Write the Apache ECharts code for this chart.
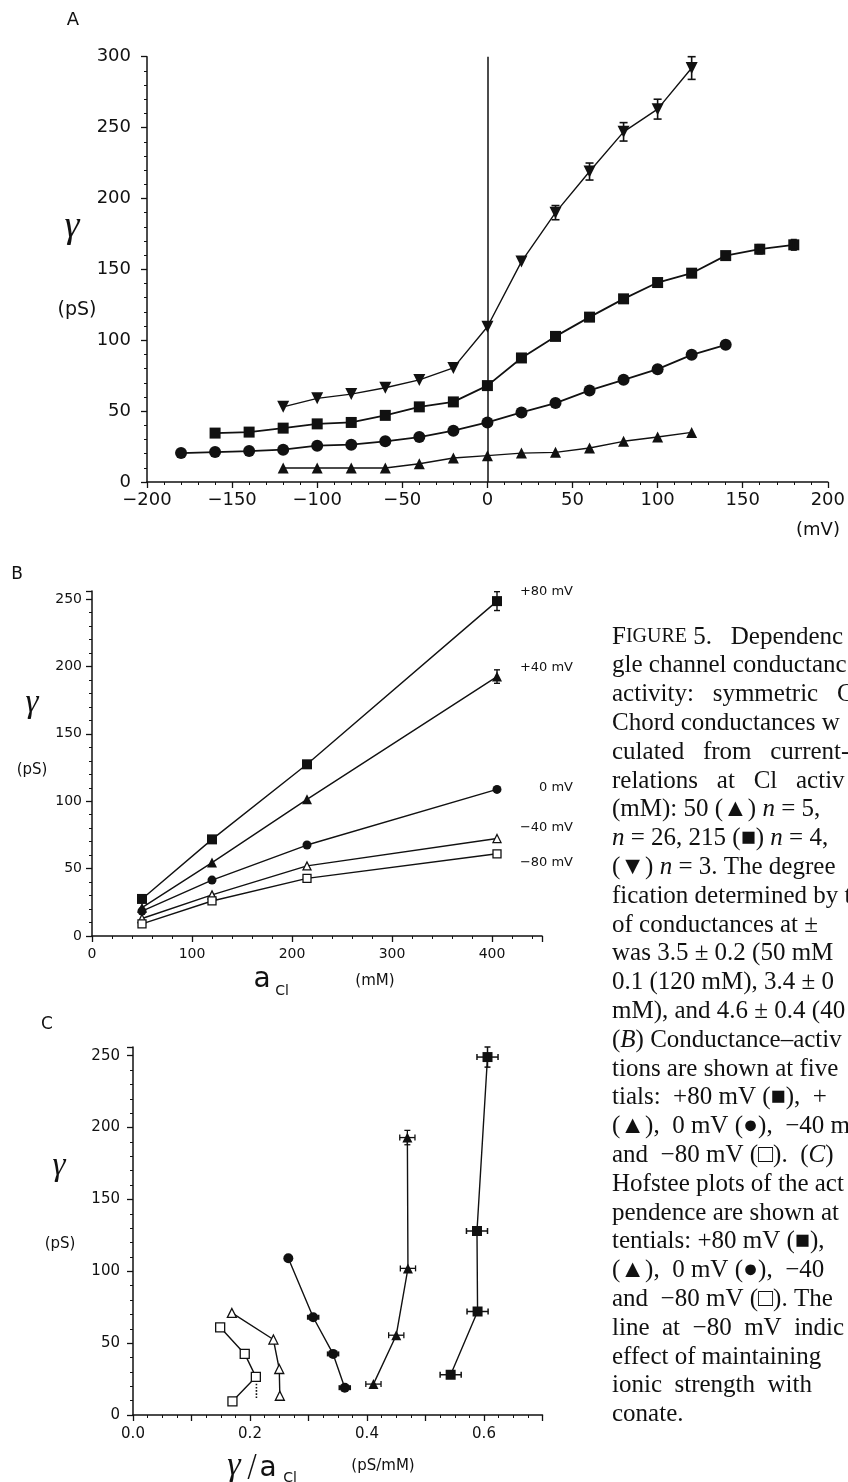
<!DOCTYPE html>
<html><head><meta charset="utf-8">
<script src="https://cdn.jsdelivr.net/npm/echarts@6/dist/echarts.min.js"></script>
<style>html,body{margin:0;padding:0;background:#fff}#c{width:848px;height:1482px}</style>
</head><body><div id="c"></div>
<script>
// ---------- Panel A: gamma vs voltage ----------
const aDownX = [-120,-100,-80,-60,-40,-20,0,20,40,60,80,100,120];
const aDownY = [53,59,62,66.5,72,80.5,109.5,155.5,190,219,247,263,292];
const aDownErr = [0,0,0,0,0,0,0,0,5,6,6.5,7,8];
const aSqX = [-160,-140,-120,-100,-80,-60,-40,-20,0,20,40,60,80,100,120,140,160,180];
const aSqY = [34.5,35.2,38,41,42,47,53,56.5,68,87.5,102.7,116.3,129.2,140.7,147.3,159.7,164.2,167.3];
const aSqErr = [0,0,0,0,0,0,0,0,0,0,0,0,0,0,0,0,3,3.5];
const aCircX = [-180,-160,-140,-120,-100,-80,-60,-40,-20,0,20,40,60,80,100,120,140];
const aCircY = [20.4,21.1,21.8,22.8,25.6,26.3,28.7,31.7,36.2,42,49.1,55.7,64.6,72.1,79.6,89.7,96.8];
const aUpX = [-120,-100,-80,-60,-40,-20,0,20,40,60,80,100,120];
const aUpY = [9.9,9.9,9.9,9.9,12.9,16.9,18.6,20.4,20.9,24,28.7,31.7,35];

// ---------- Panel B: gamma vs Cl activity ----------
const bAct = [50,120,215,405];
const bP80 = [27.5,71.7,127.4,248.5];
const bP80Err = [0,0,0,7];
const bP40 = [21,54.5,101.4,192.5];
const bP40Err = [0,0,0,5];
const b0 = [18.5,41.5,67.5,108.8];
const bM40 = [13,30.5,52,72.3];
const bM80 = [9,26,42.8,61];
const bLabels = ['+80 mV','+40 mV','0 mV','\u221240 mV','\u221280 mV'];

// ---------- Panel C: Eadie-Hofstee ----------
const cM80X = [0.149,0.191,0.210,0.170];
const cM80Y = [61,42.5,26.5,9.5];
const cM80DotX = [0.211,0.211];
const cM80DotY = [24,11];
const cM40X = [0.169,0.240,0.250,0.251];
const cM40Y = [71,52.5,32,13.4];
const c0X = [0.2655,0.308,0.342,0.362];
const c0Y = [109,68,42.5,19];
const c0XErr = [0,0.009,0.009,0.009];
const cP40X = [0.411,0.450,0.470,0.469];
const cP40Y = [21.5,55.5,102,193];
const cP40XErr = [0.013,0.013,0.013,0.013];
const cP40YErr = [0,0,0,5];
const cP80X = [0.543,0.589,0.588,0.606];
const cP80Y = [28,72,128,249];
const cP80XErr = [0.018,0.018,0.018,0.018];
const cP80YErr = [0,0,0,7];

const captionLines = [
 "{sc|F}{sm|IGURE} 5.   Dependenc",
 "gle channel conductanc",
 "activity:   symmetric   C",
 "Chord conductances w",
 "culated   from   current-",
 "relations   at   Cl   activ",
 "(mM): 50 (\u25B2) {i|n} = 5,",
 "{i|n} = 26, 215 (\u25A0) {i|n} = 4,",
 "(\u25BC) {i|n} = 3. The degree",
 "fication determined by t",
 "of conductances at \u00B1",
 "was 3.5 \u00B1 0.2 (50 mM",
 "0.1 (120 mM), 3.4 \u00B1 0",
 "mM), and 4.6 \u00B1 0.4 (40",
 "({i|B}) Conductance\u2013activ",
 "tions are shown at five",
 "tials:  +80 mV (\u25A0),  +",
 "(\u25B2),  0 mV (\u25CF),  \u221240 m",
 "and  \u221280 mV (\u25A1).  ({i|C})",
 "Hofstee plots of the act",
 "pendence are shown at",
 "tentials: +80 mV (\u25A0),",
 "(\u25B2),  0 mV (\u25CF),  \u221240",
 "and  \u221280 mV (\u25A1). The",
 "line  at  \u221280  mV  indic",
 "effect of maintaining",
 "ionic  strength  with",
 "conate."
];

const zip = (xs, ys) => xs.map((x, i) => [x, ys[i]]);
const zipErr = (xs, ys, es) => xs.map((x, i) => [x, ys[i], es[i]]).filter(d => d[2] > 0);
const K = '#111';
const SANS = 'DejaVu Sans';
const SERIF = 'Liberation Serif';

function lineS(xi, data, symbol, size, open, opts) {
  return Object.assign({
    type: 'line', xAxisIndex: xi, yAxisIndex: xi, data,
    symbol, symbolSize: size, showSymbol: true,
    lineStyle: { color: K, width: 1.4 },
    itemStyle: open ? { color: '#fff', borderColor: K, borderWidth: 1.3 } : { color: K, borderWidth: 0 },
    z: 3, animation: false, silent: true
  }, opts || {});
}
function errS(xi, data, dir, cap, lw) {
  return {
    type: 'custom', xAxisIndex: xi, yAxisIndex: xi, data, z: 6, silent: true, animation: false,
    encode: { x: 0, y: 1 },
    renderItem: (p, api) => {
      const x = api.value(0), y = api.value(1), e = api.value(2);
      let a, b;
      if (dir === 'v') { a = api.coord([x, y - e]); b = api.coord([x, y + e]); }
      else { a = api.coord([x - e, y]); b = api.coord([x + e, y]); }
      const st = { stroke: K, lineWidth: lw };
      const ch = [{ type: 'line', shape: { x1: a[0], y1: a[1], x2: b[0], y2: b[1] }, style: st }];
      for (const q of [a, b]) {
        if (dir === 'v') ch.push({ type: 'line', shape: { x1: q[0] - cap, y1: q[1], x2: q[0] + cap, y2: q[1] }, style: st });
        else ch.push({ type: 'line', shape: { x1: q[0], y1: q[1] - cap, x2: q[0], y2: q[1] + cap }, style: st });
      }
      return { type: 'group', children: ch };
    }
  };
}
function axisCommon(fs, margin, fmt, split) {
  return {
    axisLine: { show: true, onZero: false, lineStyle: { color: K, width: 1.5 } },
    axisTick: { show: true, inside: false, length: 6, lineStyle: { color: K, width: 1.3 } },
    minorTick: { show: true, splitNumber: split, length: 3, lineStyle: { color: K, width: 1 } },
    splitLine: { show: false },
    axisLabel: { color: K, fontFamily: SANS, fontSize: fs, margin, formatter: fmt }
  };
}
const fmtA = v => String(v).replace('-', '\u2212');
const fmtInt50 = v => (Math.abs(v % 50) < 1e-9 ? String(v) : '');
const fmtInt100 = v => (Math.abs(v % 100) < 1e-9 ? String(v) : '');
const fmtC = v => { const r = Math.round(v * 10); return r % 2 === 0 ? (r / 10).toFixed(1) : ''; };

function txt(x, y, text, size, family, extra) {
  return { type: 'text', x, y, silent: true, style: Object.assign({ text, fontSize: size, fontFamily: family, fill: K, align: 'center', verticalAlign: 'middle' }, extra || {}) };
}

const graphics = [
  txt(73, 20, 'A', 18, SANS),
  txt(72, 227, '\u03B3', 38, SERIF, { fontStyle: 'italic' }),
  txt(77, 310, '(pS)', 19, SANS),
  txt(818, 530, '(mV)', 18, SANS),
  txt(17, 575, 'B', 17, SANS),
  txt(32, 703, '\u03B3', 33, SERIF, { fontStyle: 'italic' }),
  txt(32, 770, '(pS)', 15, SANS),
  txt(262, 980, 'a', 28, SANS),
  txt(282, 991, 'Cl', 14, SANS),
  txt(375, 981, '(mM)', 15, SANS),
  txt(47, 1025, 'C', 17, SANS),
  txt(59, 1166, '\u03B3', 33, SERIF, { fontStyle: 'italic' }),
  txt(60, 1244, '(pS)', 15, SANS),
  txt(234, 1466, '\u03B3', 34, SERIF, { fontStyle: 'italic' }),
  txt(252, 1468, '/', 30, SANS, { fontWeight: 'lighter' }),
  txt(268, 1469, 'a', 28, SANS),
  txt(290, 1478, 'Cl', 14, SANS),
  txt(383, 1466, '(pS/mM)', 15, SANS)
];
const bLabelY = [592, 668, 788, 828, 863];
bLabels.forEach((t, i) => graphics.push(txt(573, bLabelY[i], t, 13, SANS, { align: 'right' })));
captionLines.forEach((t, i) => graphics.push({
  type: 'text', x: 612, y: 637 + i * 28.8, silent: true,
  style: {
    text: t, fontSize: 25, fontFamily: SERIF + ', DejaVu Serif', fill: K, align: 'left', verticalAlign: 'middle',
    rich: {
      i: { fontStyle: 'italic', fontSize: 25, fontFamily: SERIF },
      sc: { fontSize: 25, fontFamily: SERIF },
      sm: { fontSize: 20, fontFamily: SERIF }
    }
  }
}));

const option = {
  backgroundColor: '#fff',
  animation: false,
  grid: [
    { left: 147, top: 56.7, width: 682, height: 425.3 },
    { left: 92, top: 591, width: 450, height: 345 },
    { left: 133, top: 1047, width: 409.5, height: 368 }
  ],
  xAxis: [
    Object.assign({ type: 'value', gridIndex: 0, min: -200, max: 200, interval: 50 }, axisCommon(18, 9, fmtA, 5)),
    Object.assign({ type: 'value', gridIndex: 1, min: 0, max: 450, interval: 100 }, axisCommon(14, 11, fmtInt100, 5)),
    Object.assign({ type: 'value', gridIndex: 2, min: 0, max: 0.7, interval: 0.1 }, axisCommon(15, 12, fmtC, 4))
  ],
  yAxis: [
    Object.assign({ type: 'value', gridIndex: 0, min: 0, max: 300, interval: 50 }, axisCommon(18, 16, fmtA, 5)),
    Object.assign({ type: 'value', gridIndex: 1, min: 0, max: 256, interval: 50 }, axisCommon(14, 10, fmtInt50, 5)),
    Object.assign({ type: 'value', gridIndex: 2, min: 0, max: 256, interval: 50 }, axisCommon(15, 13, fmtInt50, 5))
  ],
  graphic: graphics,
  series: [
    // Panel A
    lineS(0, zip(aDownX, aDownY), 'triangle', 12, false, {
      symbolRotate: 180,
      markLine: { silent: true, symbol: 'none', label: { show: false }, lineStyle: { color: K, width: 1.5, type: 'solid' }, data: [{ xAxis: 0 }] }
    }),
    lineS(0, zip(aSqX, aSqY), 'rect', 11, false, { lineStyle: { color: K, width: 1.8 } }),
    lineS(0, zip(aCircX, aCircY), 'circle', 12, false, { lineStyle: { color: K, width: 1.8 } }),
    lineS(0, zip(aUpX, aUpY), 'triangle', 11, false),
    errS(0, zipErr(aDownX, aDownY, aDownErr), 'v', 4, 1.6),
    errS(0, zipErr(aSqX, aSqY, aSqErr), 'v', 3, 2.2),
    // Panel B
    lineS(1, zip(bAct, bP80), 'rect', 10, false),
    lineS(1, zip(bAct, bP40), 'triangle', 10, false),
    lineS(1, zip(bAct, b0), 'circle', 9, false),
    lineS(1, zip(bAct, bM40), 'triangle', 8, true),
    lineS(1, zip(bAct, bM80), 'rect', 8, true),
    errS(1, zipErr(bAct, bP80, bP80Err), 'v', 3, 1.4),
    errS(1, zipErr(bAct, bP40, bP40Err), 'v', 3, 1.4),
    // Panel C
    lineS(2, zip(cM80DotX, cM80DotY), 'none', 0, false, { lineStyle: { color: K, width: 1.6, type: 'dotted' }, z: 2 }),
    lineS(2, zip(cM80X, cM80Y), 'rect', 9, true),
    lineS(2, zip(cM40X, cM40Y), 'triangle', 9, true),
    lineS(2, zip(c0X, c0Y), 'circle', 10, false),
    lineS(2, zip(cP40X, cP40Y), 'triangle', 10, false),
    lineS(2, zip(cP80X, cP80Y), 'rect', 10, false),
    errS(2, zipErr(c0X, c0Y, c0XErr), 'h', 2.5, 2),
    errS(2, zipErr(cP40X, cP40Y, cP40XErr), 'h', 3, 1.3),
    errS(2, zipErr(cP40X, cP40Y, cP40YErr), 'v', 3, 1.3),
    errS(2, zipErr(cP80X, cP80Y, cP80XErr), 'h', 3, 1.5),
    errS(2, zipErr(cP80X, cP80Y, cP80YErr), 'v', 3, 1.5)
  ]
};
const chart = echarts.init(document.getElementById('c'), null, { renderer: 'canvas' });
chart.setOption(option);
</script>
</body></html>
